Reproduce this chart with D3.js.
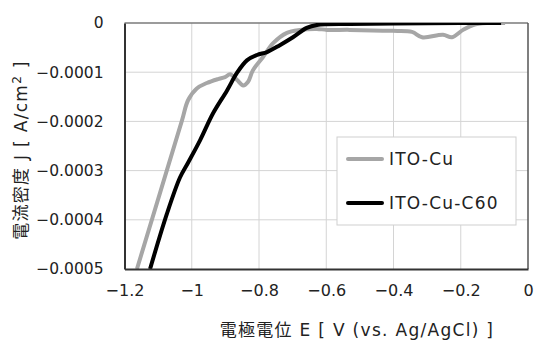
<!DOCTYPE html>
<html>
<head>
<meta charset="utf-8">
<script src="https://cdn.jsdelivr.net/npm/d3@7"></script>
<style>
  body { margin: 0; background: #fff; }
  svg text { font-family: "DejaVu Sans", "Noto Sans CJK JP", sans-serif; fill: #222; }
</style>
</head>
<body>
<div id="chart"></div>
<script>
// data
var seriesNames = ['ITO-Cu', 'ITO-Cu-C60'];
var xTicks = [-1.2, -1, -0.8, -0.6, -0.4, -0.2, 0];
var yTicks = [0, -0.0001, -0.0002, -0.0003, -0.0004, -0.0005];

var itoCuE = [-1.163, -1.029, -1.011, -0.985, -0.955, -0.922, -0.901, -0.886, -0.865, -0.847, -0.833, -0.818, -0.788, -0.758, -0.717, -0.678, -0.628, -0.598, -0.53, -0.402, -0.345, -0.315, -0.253, -0.226, -0.193, -0.163, -0.122, -0.068];
var itoCuJ = [-0.0005, -0.000198, -0.000157, -0.000133, -0.000122, -0.000114, -0.00011, -0.000104, -0.000116, -0.000127, -0.00012, -0.000096, -0.000069, -0.000041, -0.00002, -0.000014, -0.000012, -0.000014, -0.000014, -0.000016, -0.000018, -0.000029, -0.000024, -0.000029, -0.000014, -0.000004, 0, 0];

var c60E = [-1.124, -1.074, -1.035, -1.011, -0.975, -0.937, -0.895, -0.866, -0.836, -0.806, -0.776, -0.738, -0.699, -0.658, -0.628, -0.53, -0.4, -0.2, -0.08];
var c60J = [-0.0005, -0.000388, -0.000314, -0.000284, -0.000238, -0.000184, -0.000137, -0.000102, -0.000076, -0.000065, -0.000059, -0.000045, -0.000029, -0.00001, -0.000004, -0.000002, -0.000001, 0, 0];

var colors = ['#a6a6a6', '#000000'];

// set the dimensions and margins of the graph
var margin = {top: 23, right: 6, bottom: 73, left: 124.5},
    width = 534 - margin.left - margin.right,
    height = 342 - margin.top - margin.bottom;

var x = d3.scaleLinear().domain([-1.2, 0]).range([0, width]);
var y = d3.scaleLinear().domain([-0.0005, 0]).range([height, 0]);

var root = d3.select('#chart').append('svg')
    .attr('width', 534)
    .attr('height', 342);

var svg = root.append('g')
    .attr('transform', 'translate(' + margin.left + ',' + margin.top + ')');

// grid
svg.selectAll('.vgrid')
    .data(xTicks.slice(1, -1))
    .enter().append('line')
    .attr('x1', function(d) { return x(d); })
    .attr('x2', function(d) { return x(d); })
    .attr('y1', 0).attr('y2', height)
    .attr('stroke', '#d4d4d4').attr('stroke-width', 1);

svg.selectAll('.hgrid')
    .data(yTicks.slice(1, -1))
    .enter().append('line')
    .attr('x1', 0).attr('x2', width)
    .attr('y1', function(d) { return y(d); })
    .attr('y2', function(d) { return y(d); })
    .attr('stroke', '#d4d4d4').attr('stroke-width', 1);

// frame
svg.append('line').attr('x1', 0).attr('x2', width).attr('y1', 0).attr('y2', 0)
    .attr('stroke', '#7a7a7a').attr('stroke-width', 1.5);
svg.append('line').attr('x1', width).attr('x2', width).attr('y1', 0).attr('y2', height)
    .attr('stroke', '#555').attr('stroke-width', 1.5);

// clip for the lines
svg.append('clipPath').attr('id', 'clip')
  .append('rect').attr('width', width).attr('height', height);

var valueline = d3.line()
    .x(function(d) { return x(d[0]); })
    .y(function(d) { return y(d[1]); })
    .curve(d3.curveCatmullRom.alpha(0.5));

var series = [d3.zip(itoCuE, itoCuJ), d3.zip(c60E, c60J)];

svg.selectAll('.series')
    .data(series)
    .enter().append('path')
    .attr('clip-path', 'url(#clip)')
    .attr('fill', 'none')
    .attr('stroke', function(d, i) { return colors[i]; })
    .attr('stroke-width', 4)
    .attr('stroke-linejoin', 'round')
    .attr('d', valueline);

// axes
var xAxis = svg.append('g')
    .attr('transform', 'translate(0,' + height + ')')
    .call(d3.axisBottom(x).tickValues(xTicks).tickSize(0).tickPadding(16)
      .tickFormat(function(d) { return d === 0 ? '0' : String(d).replace('-', '\u2212'); }));
xAxis.select('.domain').attr('stroke', '#333').attr('stroke-width', 2);
xAxis.selectAll('text').attr('font-size', '16px').attr('fill', '#222');

var yAxis = svg.append('g')
    .call(d3.axisLeft(y).tickValues(yTicks).tickSize(0).tickPadding(21)
      .tickFormat(function(d) { return d === 0 ? '0' : '\u2212' + Math.abs(d).toFixed(4); }));
yAxis.select('.domain').attr('stroke', '#333').attr('stroke-width', 2);
yAxis.selectAll('text').attr('font-size', '15.5px').attr('fill', '#222');

// axis titles
root.append('text')
    .attr('x', 357).attr('y', 336)
    .attr('text-anchor', 'middle')
    .attr('font-size', '17px')
    .attr('letter-spacing', '1.3px')
    .text('電極電位 E [ V (vs. Ag/AgCl) ]');

var yTitle = root.append('text')
    .attr('transform', 'translate(27,150) rotate(-90)')
    .attr('text-anchor', 'middle')
    .attr('font-size', '17px')
    .attr('letter-spacing', '1.3px');
yTitle.append('tspan').text('電流密度 J [ A/cm');
yTitle.append('tspan').attr('font-size', '12px').attr('dy', '-6').text('2');
yTitle.append('tspan').attr('dy', '6').text(' ]');

// legend
var legend = root.append('g').attr('transform', 'translate(337,137)');
legend.append('rect')
    .attr('width', 179).attr('height', 88)
    .attr('fill', '#fff').attr('stroke', '#cfcfcf');
seriesNames.forEach(function(name, i) {
  var ly = 22 + i * 44;
  legend.append('line')
      .attr('x1', 11).attr('x2', 45).attr('y1', ly).attr('y2', ly)
      .attr('stroke', colors[i]).attr('stroke-width', 4).attr('stroke-linecap', 'round');
  legend.append('text')
      .attr('x', 52).attr('y', ly).attr('dy', '0.35em')
      .attr('font-size', '17px')
      .attr('letter-spacing', '1.2px')
      .text(name);
});
</script>
</body>
</html>
